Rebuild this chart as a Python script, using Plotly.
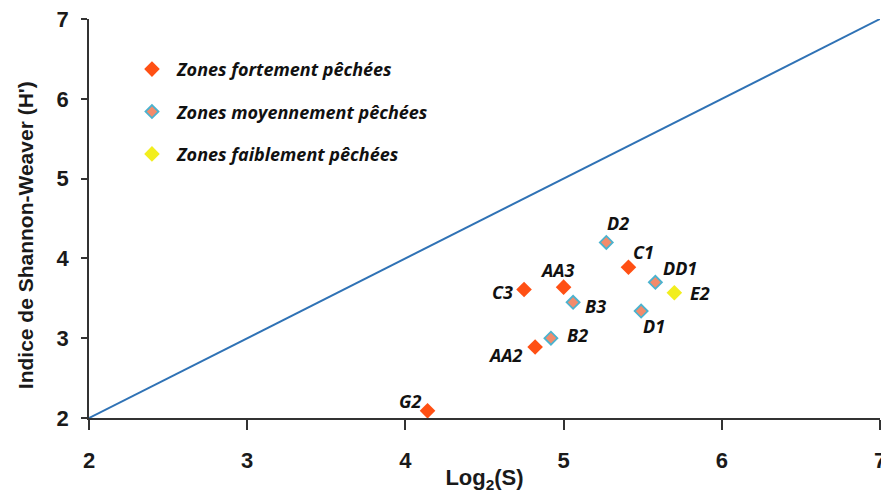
import plotly.graph_objects as go

# Data
strong_names = ["G2", "AA2", "C3", "AA3", "C1"]
strong_x = [4.14, 4.82, 4.75, 5.00, 5.41]
strong_y = [2.09, 2.89, 3.61, 3.64, 3.89]

medium_names = ["B2", "B3", "D2", "DD1", "D1"]
medium_x = [4.92, 5.06, 5.27, 5.58, 5.49]
medium_y = [3.00, 3.45, 4.20, 3.70, 3.34]

weak_names = ["E2"]
weak_x = [5.70]
weak_y = [3.57]

line_x = [2, 7]
line_y = [2, 7]

x_ticks = [2, 3, 4, 5, 6, 7]
y_ticks = [2, 3, 4, 5, 6, 7]

# label offsets (pixels) per station
label_offsets = {
    "G2": (-18, 10), "AA2": (-30, -8), "C3": (-22, -2), "AA3": (-6, 17), "C1": (15, 15),
    "B2": (27, 3), "B3": (22, -4), "D2": (12, 19), "DD1": (25, 14), "D1": (13, -15),
    "E2": (26, 0),
}

fig = go.Figure()

fig.add_trace(go.Scatter(x=line_x, y=line_y, mode="lines",
                         line=dict(color="#2F72B5", width=2), showlegend=False,
                         hoverinfo="skip"))

fig.add_trace(go.Scatter(x=strong_x, y=strong_y, mode="markers", name="Zones fortement pêchées",
                         marker=dict(symbol="diamond", size=12, color="#FF5014",
                                     line=dict(width=0)),
                         legendgroup="a"))
fig.add_trace(go.Scatter(x=medium_x, y=medium_y, mode="markers", name="Zones moyennement pêchées",
                         marker=dict(symbol="diamond", size=10, color="#F38B6B",
                                     line=dict(width=1.8, color="#4BB3CF")),
                         legendgroup="b"))
fig.add_trace(go.Scatter(x=weak_x, y=weak_y, mode="markers", name="Zones faiblement pêchées",
                         marker=dict(symbol="diamond", size=12, color="#F2EE1E",
                                     line=dict(width=0)),
                         legendgroup="c"))

lab_font = dict(family="Open Sans", size=18, color="#111111", weight="bold", style="italic")
for names, xs, ys in [(strong_names, strong_x, strong_y), (medium_names, medium_x, medium_y),
                      (weak_names, weak_x, weak_y)]:
    for n, xv, yv in zip(names, xs, ys):
        dx, dy = label_offsets[n]
        fig.add_annotation(x=xv, y=yv, text=n, showarrow=False, xshift=dx, yshift=dy,
                           font=lab_font)

# y-axis title as annotation (centred slightly below the plot middle, as in the reference)
fig.add_annotation(xref="paper", yref="paper", x=-0.081, y=0.458, text="Indice de Shannon-Weaver (H')",
                   textangle=-90, showarrow=False, xanchor="center", yanchor="middle",
                   font=dict(family="Liberation Sans", size=21, color="#1a1a1a", weight="bold"))

axis_font = dict(family="Liberation Sans", size=22, color="#1a1a1a", weight="bold")
# page body has an 8px margin, so the figure is sized/offset to compensate
fig.update_layout(
    width=881, height=485,
    margin=dict(l=81, r=9, t=11, b=75, autoexpand=False),
    plot_bgcolor="white", paper_bgcolor="white",
    legend=dict(x=0.048, y=0.92, xanchor="left", yanchor="top",
                font=dict(family="Open Sans", size=18, color="#111111", weight="bold", style="italic"),
                tracegroupgap=16, itemwidth=40, bgcolor="rgba(0,0,0,0)"),
    xaxis=dict(range=[2, 7], tickvals=x_ticks, showgrid=False, zeroline=False,
               showline=True, linecolor="#333333", linewidth=1.5, automargin=False,
               ticks="outside", ticklen=10, tickwidth=1.5, tickcolor="#333333",
               tickfont=axis_font, ticklabelstandoff=12, ticklabeloverflow="allow",
               title=dict(text="Log<sub>2</sub>(S)", font=dict(family="Liberation Sans", size=22,
                                                              color="#1a1a1a", weight="bold"),
                          standoff=0)),
    yaxis=dict(range=[2, 7], tickvals=y_ticks, showgrid=False, zeroline=False,
               showline=True, linecolor="#333333", linewidth=1.5, automargin=False,
               ticks="outside", ticklen=6, tickwidth=1.5, tickcolor="#333333",
               tickfont=axis_font, ticklabelstandoff=8, ticklabeloverflow="allow"),
)

fig.write_html("out.html")
